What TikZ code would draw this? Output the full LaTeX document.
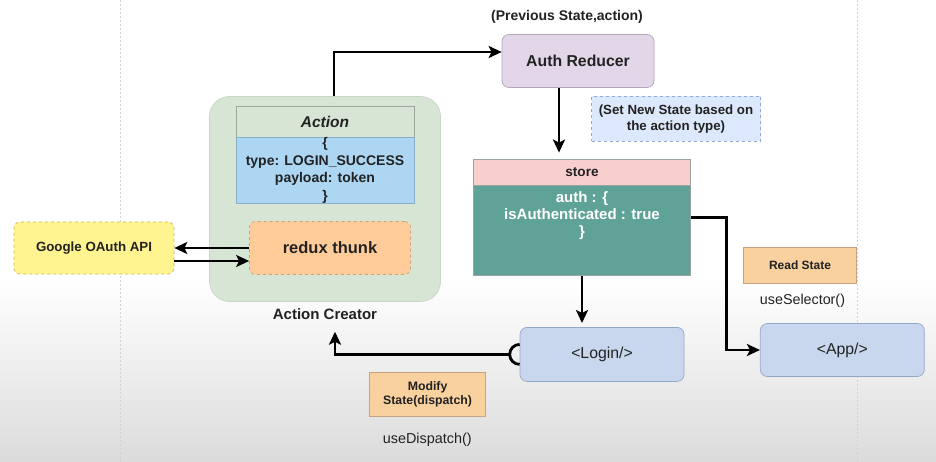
\documentclass[tikz,border=0pt]{standalone}
\usepackage{fontspec}
\setmainfont{Liberation Sans}
\usetikzlibrary{arrows.meta}

\definecolor{googleFill}{HTML}{FFF48F}
\definecolor{googleLine}{HTML}{C9B45A}
\definecolor{creatorFill}{HTML}{D7E6D4}
\definecolor{creatorLine}{HTML}{C8D6C5}
\definecolor{headerLine}{HTML}{9DA79B}
\definecolor{payloadFill}{HTML}{ADD6F2}
\definecolor{payloadLine}{HTML}{8AAFC8}
\definecolor{thunkFill}{HTML}{FFCC99}
\definecolor{thunkLine}{HTML}{C9A27E}
\definecolor{reducerFill}{HTML}{E3D6E9}
\definecolor{reducerLine}{HTML}{B3A6BB}
\definecolor{noteFill}{HTML}{DCE8FB}
\definecolor{noteLine}{HTML}{93A9CF}
\definecolor{storeHead}{HTML}{F9CFCD}
\definecolor{storeBody}{HTML}{5FA398}
\definecolor{storeLine}{HTML}{9AA5A3}
\definecolor{compFill}{HTML}{C9D7EE}
\definecolor{compLine}{HTML}{93A8C9}
\definecolor{hookFill}{HTML}{F9D19F}
\definecolor{hookLine}{HTML}{C9A27E}
\definecolor{inkText}{HTML}{222222}

\begin{document}
\begin{tikzpicture}[x=1pt,y=-1pt,
  box/.style={draw=#1, line width=0.7pt, inner sep=0pt, align=center, text=inkText},
  flow/.style={line width=2.8pt, -{Stealth[length=13pt,width=12pt,inset=3pt]}},
  socket/.style={line width=2.8pt},
  caption/.style={inner sep=0pt, align=center, text=inkText},
  pagebreak/.style={gray!35, line width=0.6pt, dash pattern=on 2pt off 2pt}]

% Background
\useasboundingbox (0,0) rectangle (936,462);
\fill[white] (0,0) rectangle (936,462);
\shade[top color=white, bottom color=gray!28] (0,280) rectangle (936,462);
\draw[pagebreak] (120,0) -- (120,462);
\draw[pagebreak] (857,0) -- (857,462);

% Action creator
\node[box=creatorLine, fill=creatorFill, rounded corners=20pt, minimum width=231pt, minimum height=205pt] (creator) at (325,199) {};
\node[box=headerLine, fill=creatorFill, minimum width=178pt, minimum height=31pt, font=\fontsize{15.5}{18}\selectfont\bfseries\itshape] (action) at (325,121.5) {Action};
\node[box=payloadLine, fill=payloadFill, minimum width=178pt, minimum height=66pt, font=\fontsize{14}{17.5}\selectfont\bfseries] (payload) at (325,170.2) {\{\\type: LOGIN\_SUCCESS\\payload: token\\\}};
\node[box=thunkLine, fill=thunkFill, rounded corners=6pt, dashed, minimum width=161pt, minimum height=53pt, font=\fontsize{16.5}{19}\selectfont\bfseries] (thunk) at (330,248) {redux thunk};
\node[caption, font=\fontsize{15}{18}\selectfont\bfseries] (creatorlbl) at (325,314) {Action Creator};

% Google API
\node[box=googleLine, fill=googleFill, rounded corners=6pt, dashed, minimum width=160pt, minimum height=52pt, font=\fontsize{13.3}{16}\selectfont\bfseries] (google) at (94,248) {Google OAuth API};

% Reducer
\node[caption, font=\fontsize{14}{17}\selectfont\bfseries] (prevlbl) at (567,17) {(Previous State,action)};
\node[box=reducerLine, fill=reducerFill, rounded corners=7pt, minimum width=152pt, minimum height=53pt, font=\fontsize{15.8}{19}\selectfont\bfseries] (reducer) at (578,61) {Auth Reducer};
\node[box=noteLine, fill=noteFill, dashed, minimum width=169pt, minimum height=45pt, font=\fontsize{13.3}{16.7}\selectfont\bfseries] (note) at (676,119) {(Set New State based on\\the action type)};

% Store
\node[box=storeLine, fill=storeHead, minimum width=217pt, minimum height=26.7pt, font=\fontsize{13.6}{16}\selectfont\bfseries] (storehead) at (582,172.3) {store};
\node[box=storeLine, fill=storeBody, minimum width=217pt, minimum height=90pt] (storebody) at (582,230.7) {};
\node[caption, text=white, font=\fontsize{15}{17}\selectfont\bfseries] (storetxt) at (582,216) {auth : \{\\isAuthenticated : true\\\}};

% Components
\node[box=compLine, fill=compFill, rounded corners=7pt, minimum width=164pt, minimum height=54pt, font=\fontsize{15.8}{19}\selectfont] (login) at (602,354.4) {<Login/>};
\node[box=compLine, fill=compFill, rounded corners=7pt, minimum width=164pt, minimum height=53pt, font=\fontsize{15.8}{19}\selectfont] (app) at (842.3,350) {<App/>};

% Hooks
\node[box=hookLine, fill=hookFill, minimum width=113pt, minimum height=36pt, font=\fontsize{12}{14}\selectfont\bfseries] (readstate) at (800,265.5) {Read State};
\node[caption, font=\fontsize{14.3}{17}\selectfont] (selectorlbl) at (802.5,300.5) {useSelector()};
\node[box=hookLine, fill=hookFill, minimum width=116pt, minimum height=44pt, font=\fontsize{12.3}{14}\selectfont\bfseries] (modify) at (427.6,394.5) {Modify\\State(dispatch)};
\node[caption, font=\fontsize{14.4}{17}\selectfont] (dispatchlbl) at (427.3,440) {useDispatch()};

% Connectors
\draw[flow] (thunk.west) -- (google.east);
\draw[flow] ([yshift=-13pt]google.east) -- ([yshift=-13pt]thunk.west);
\draw[flow] ([xshift=9pt]creator.north) |- ([yshift=9pt]reducer.west);
\draw[flow, shorten >=6pt] ([xshift=-19pt]reducer.south) -- ([xshift=-19pt]reducer.south |- storehead.north);
\draw[flow] ([yshift=13.5pt]storebody.east) -- ++(36,0) |- (app.west);
\draw[flow, shorten >=4pt] (storebody.south) -- (storebody.south |- login.north);
\draw[flow, shorten >=12pt] ([xshift=-11pt]login.west) -| ([xshift=10pt]creatorlbl.south);
\draw[socket] ([yshift=10pt]login.west) arc(90:270:10pt);

\end{tikzpicture}
\end{document}
